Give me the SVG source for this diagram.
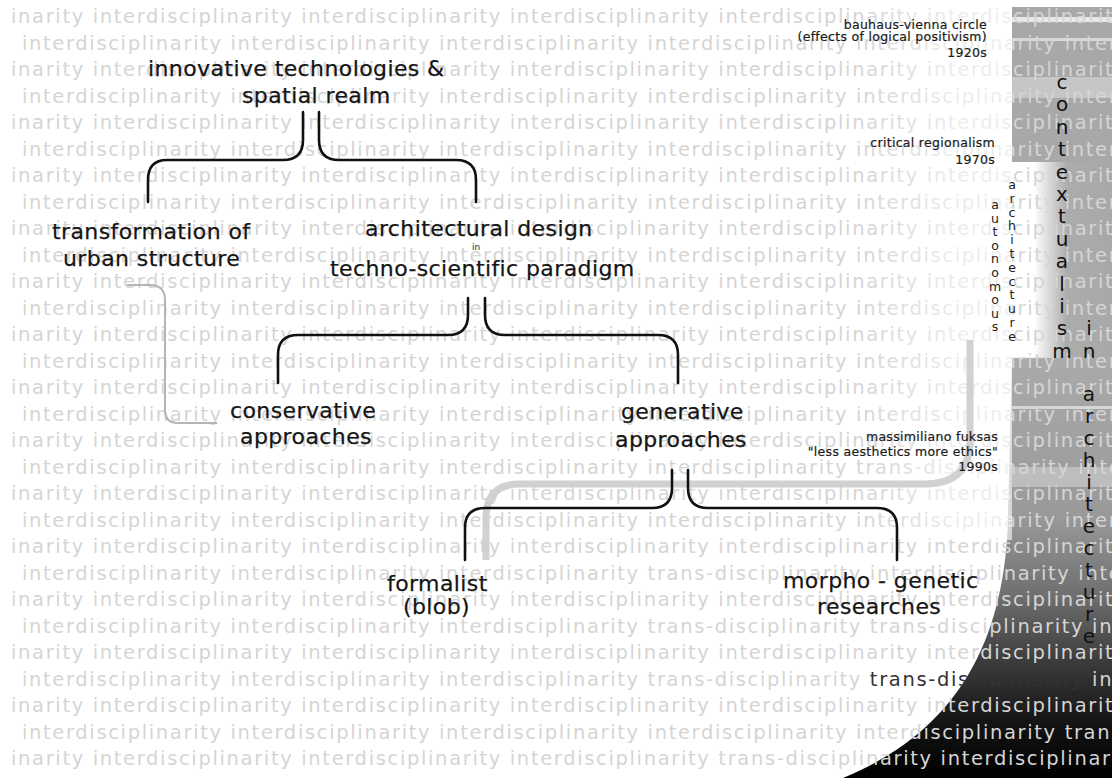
<svg xmlns="http://www.w3.org/2000/svg" width="1112" height="778" viewBox="0 0 1112 778">
<defs>
<style>
.bg{font-family:"DejaVu Sans",sans-serif;font-size:19.5px;letter-spacing:1.65px;fill:#d5d5d5}
.lbl{font-family:"DejaVu Sans",sans-serif;font-size:22px;letter-spacing:0.4px;fill:#151515;stroke:#151515;stroke-width:0.25}
.note{font-family:"DejaVu Sans",sans-serif;font-size:12.5px;letter-spacing:0.3px;fill:#1a1a1a;stroke:#1a1a1a;stroke-width:0.2;text-anchor:end}
.vs{font-family:"DejaVu Sans",sans-serif;font-size:12.5px;fill:#1a1a1a;text-anchor:middle}
.vb{font-family:"DejaVu Sans",sans-serif;font-size:20px;fill:#111;text-anchor:middle}
.br{fill:none;stroke:#111;stroke-width:2.6;stroke-linecap:round}
.dark{fill:#333}
</style>
<linearGradient id="midfade" x1="1012" y1="0" x2="1112" y2="0" gradientUnits="userSpaceOnUse">
<stop offset="0" stop-color="#fff"/><stop offset="0.22" stop-color="#fff"/><stop offset="0.55" stop-color="#acacac"/><stop offset="1" stop-color="#a8a8a8"/>
</linearGradient>
<linearGradient id="lowgrad" x1="0" y1="358" x2="0" y2="778" gradientUnits="userSpaceOnUse">
<stop offset="0" stop-color="#aaaaaa"/><stop offset="0.38" stop-color="#999"/><stop offset="0.57" stop-color="#6e6e6e"/><stop offset="0.72" stop-color="#3c3c3c"/><stop offset="0.87" stop-color="#141414"/><stop offset="1" stop-color="#000"/>
</linearGradient>
<linearGradient id="glow" x1="860" y1="0" x2="1012" y2="0" gradientUnits="userSpaceOnUse">
<stop offset="0" stop-color="#fff" stop-opacity="0"/><stop offset="0.6" stop-color="#fff" stop-opacity="0.55"/><stop offset="1" stop-color="#fff" stop-opacity="0.6"/>
</linearGradient>
</defs>

<g id="backdrop">
<rect x="0" y="0" width="1112" height="778" fill="#fff"/>
<rect x="1012" y="7" width="100" height="155" fill="#a8a8a8"/>
<rect x="1012" y="17" width="100" height="5" fill="#e8e8e8"/>
<rect x="1012" y="38" width="100" height="3" fill="#d9d9d9"/>
<rect x="1012" y="77" width="100" height="21" fill="#c6c6c6"/>
<rect x="1012" y="162" width="100" height="196" fill="url(#midfade)"/>
<path d="M1012,358 H1112 V778 H843 C955,732 1004,645 1008,520 Z" fill="url(#lowgrad)"/>
<rect x="1012" y="406" width="100" height="3" fill="#d6d6d6"/>
<rect x="1012" y="467" width="100" height="20" fill="#bdbdbd"/>
</g>

<g id="background-text" class="bg">
<text x="11" y="23.3">inarity interdisciplinarity interdisciplinarity interdisciplinarity interdisciplinarity interdisciplinarity interdisciplinarity</text>
<text x="22" y="49.8">interdisciplinarity interdisciplinarity interdisciplinarity interdisciplinarity interdisciplinarity interdisciplinarity</text>
<text x="11" y="76.3">inarity interdisciplinarity interdisciplinarity interdisciplinarity interdisciplinarity interdisciplinarity interdisciplinarity</text>
<text x="22" y="102.8">interdisciplinarity interdisciplinarity interdisciplinarity interdisciplinarity interdisciplinarity interdisciplinarity</text>
<text x="11" y="129.3">inarity interdisciplinarity interdisciplinarity interdisciplinarity interdisciplinarity interdisciplinarity interdisciplinarity</text>
<text x="22" y="155.8">interdisciplinarity interdisciplinarity interdisciplinarity interdisciplinarity interdisciplinarity interdisciplinarity</text>
<text x="11" y="182.3">inarity interdisciplinarity interdisciplinarity interdisciplinarity interdisciplinarity interdisciplinarity interdisciplinarity</text>
<text x="22" y="208.8">interdisciplinarity interdisciplinarity interdisciplinarity interdisciplinarity interdisciplinarity interdisciplinarity</text>
<text x="11" y="235.3">inarity interdisciplinarity interdisciplinarity interdisciplinarity interdisciplinarity interdisciplinarity interdisciplinarity</text>
<text x="22" y="261.8">interdisciplinarity interdisciplinarity interdisciplinarity interdisciplinarity interdisciplinarity interdisciplinarity</text>
<text x="11" y="288.3">inarity interdisciplinarity interdisciplinarity interdisciplinarity interdisciplinarity interdisciplinarity interdisciplinarity</text>
<text x="22" y="314.8">interdisciplinarity interdisciplinarity interdisciplinarity interdisciplinarity interdisciplinarity interdisciplinarity</text>
<text x="11" y="341.3">inarity interdisciplinarity interdisciplinarity interdisciplinarity interdisciplinarity interdisciplinarity interdisciplinarity</text>
<text x="22" y="367.8">interdisciplinarity interdisciplinarity interdisciplinarity interdisciplinarity interdisciplinarity interdisciplinarity</text>
<text x="11" y="394.3">inarity interdisciplinarity interdisciplinarity interdisciplinarity interdisciplinarity interdisciplinarity interdisciplinarity</text>
<text x="22" y="420.8">interdisciplinarity interdisciplinarity interdisciplinarity interdisciplinarity interdisciplinarity interdisciplinarity</text>
<text x="11" y="447.3">inarity interdisciplinarity interdisciplinarity interdisciplinarity interdisciplinarity interdisciplinarity interdisciplinarity</text>
<text x="22" y="473.8">interdisciplinarity interdisciplinarity interdisciplinarity interdisciplinarity trans-disciplinarity interdisciplinarity</text>
<text x="11" y="500.3">inarity interdisciplinarity interdisciplinarity interdisciplinarity interdisciplinarity interdisciplinarity interdisciplinarity</text>
<text x="22" y="526.8">interdisciplinarity interdisciplinarity interdisciplinarity interdisciplinarity interdisciplinarity interdisciplinarity</text>
<text x="11" y="553.3">inarity interdisciplinarity interdisciplinarity interdisciplinarity interdisciplinarity interdisciplinarity interdisciplinarity</text>
<text x="22" y="579.8">interdisciplinarity interdisciplinarity interdisciplinarity trans-disciplinarity interdisciplinarity interdisciplinarity</text>
<text x="11" y="606.3">inarity interdisciplinarity interdisciplinarity interdisciplinarity interdisciplinarity interdisciplinarity interdisciplinarity</text>
<text x="22" y="632.8">interdisciplinarity interdisciplinarity interdisciplinarity trans-disciplinarity trans-disciplinarity interdisciplinarity</text>
<text x="11" y="659.3">inarity interdisciplinarity interdisciplinarity interdisciplinarity interdisciplinarity interdisciplinarity interdisciplinarity</text>
<text x="22" y="685.8">interdisciplinarity interdisciplinarity interdisciplinarity trans-disciplinarity <tspan class="dark">trans-disciplinarity</tspan> interdisciplinarity</text>
<text x="11" y="712.3">inarity interdisciplinarity interdisciplinarity interdisciplinarity interdisciplinarity interdisciplinarity interdisciplinarity</text>
<text x="22" y="738.8">interdisciplinarity interdisciplinarity interdisciplinarity interdisciplinarity interdisciplinarity trans-disciplinarity</text>
<text x="11" y="765.3">inarity interdisciplinarity interdisciplinarity interdisciplinarity trans-disciplinarity interdisciplinarity interdisciplinarity</text>
</g>
<rect id="glow-overlay" x="860" y="0" width="152" height="540" fill="url(#glow)"/>

<g id="connectors">
<path d="M486,560 V518 Q486,484 520,484 H925 Q970,484 970,440 V340" fill="none" stroke="#cdcdcd" stroke-width="7" opacity="0.92"/>
<path d="M127,285 H150 Q165,285 165,300 V410 Q165,423 178,423 H217" fill="none" stroke="#b4b4b4" stroke-width="2"/>
<path class="br" d="M303,112 V140 Q303,160 283,160 H167 Q148,160 148,180 V202"/>
<path class="br" d="M319,112 V140 Q319,160 339,160 H456 Q476,160 476,180 V202"/>
<path class="br" d="M468,298 V315 Q468,335 448,335 H298 Q278,335 278,355 V383"/>
<path class="br" d="M485,298 V315 Q485,335 505,335 H658 Q678,335 678,355 V383"/>
<path class="br" d="M672,470 V488 Q672,508 652,508 H485 Q465,508 465,528 V560"/>
<path class="br" d="M688,470 V488 Q688,508 708,508 H877 Q897,508 897,528 V560"/>
</g>

<g id="node-innovative" class="lbl">
<text x="148" y="76">innovative technologies &amp;</text>
<text x="242" y="103">spatial realm</text>
</g>
<g id="node-transformation" class="lbl">
<text x="52" y="239">transformation of</text>
<text x="63" y="266">urban structure</text>
</g>
<g id="node-architectural">
<text class="lbl" x="365" y="236">architectural design</text>
<text x="476" y="250" font-family="DejaVu Sans, sans-serif" font-size="9" fill="#222" text-anchor="middle">in</text>
<text class="lbl" x="330" y="276">techno-scientific paradigm</text>
</g>
<g id="node-conservative" class="lbl">
<text x="230" y="418">conservative</text>
<text x="240" y="444">approaches</text>
</g>
<g id="node-generative" class="lbl">
<text x="621" y="419">generative</text>
<text x="615" y="447">approaches</text>
</g>
<g id="node-formalist" class="lbl">
<text x="387" y="591">formalist</text>
<text x="403" y="614">(blob)</text>
</g>
<g id="node-morpho" class="lbl">
<text x="783" y="588">morpho - genetic</text>
<text x="817" y="614">researches</text>
</g>

<g id="note-bauhaus" class="note">
<text x="987" y="28.5">bauhaus-vienna circle</text>
<text x="987" y="40.5">(effects of logical positivism)</text>
<text x="987" y="57">1920s</text>
</g>
<g id="note-critical" class="note">
<text x="995" y="146.5">critical regionalism</text>
<text x="995" y="163.5">1970s</text>
</g>
<g id="note-fuksas" class="note">
<text x="998" y="440.5">massimiliano fuksas</text>
<text x="998" y="455.5">"less aesthetics more ethics"</text>
<text x="998" y="471">1990s</text>
</g>

<g id="vertical-autonomous" class="vs">
<text x="995" y="209">a</text><text x="995" y="222.6">u</text><text x="995" y="236.2">t</text><text x="995" y="249.8">o</text><text x="995" y="263.4">n</text><text x="995" y="277">o</text><text x="995" y="290.6">m</text><text x="995" y="304.2">o</text><text x="995" y="317.8">u</text><text x="995" y="331.4">s</text>
</g>
<g id="vertical-architecture-small" class="vs">
<text x="1012" y="189">a</text><text x="1012" y="202.8">r</text><text x="1012" y="216.6">c</text><text x="1012" y="230.4">h</text><text x="1012" y="244.2">i</text><text x="1012" y="258">t</text><text x="1012" y="271.8">e</text><text x="1012" y="285.6">c</text><text x="1012" y="299.4">t</text><text x="1012" y="313.2">u</text><text x="1012" y="327">r</text><text x="1012" y="340.8">e</text>
</g>
<g id="vertical-contextualism" class="vb">
<text x="1062" y="89">c</text><text x="1062" y="111.4">o</text><text x="1062" y="133.8">n</text><text x="1062" y="156.2">t</text><text x="1062" y="178.6">e</text><text x="1062" y="201">x</text><text x="1062" y="223.4">t</text><text x="1062" y="245.8">u</text><text x="1062" y="268.2">a</text><text x="1062" y="290.6">l</text><text x="1062" y="313">i</text><text x="1062" y="335.4">s</text><text x="1062" y="357.8">m</text>
</g>
<g id="vertical-in" class="vb">
<text x="1089" y="335.4">i</text><text x="1089" y="357.8">n</text>
</g>
<g id="vertical-architecture" class="vb">
<text x="1089" y="401">a</text><text x="1089" y="423">r</text><text x="1089" y="445">c</text><text x="1089" y="467">h</text><text x="1089" y="489">i</text><text x="1089" y="511">t</text><text x="1089" y="533">e</text><text x="1089" y="555">c</text><text x="1089" y="577">t</text><text x="1089" y="599">u</text><text x="1089" y="621">r</text><text x="1089" y="643">e</text>
</g>
</svg>
